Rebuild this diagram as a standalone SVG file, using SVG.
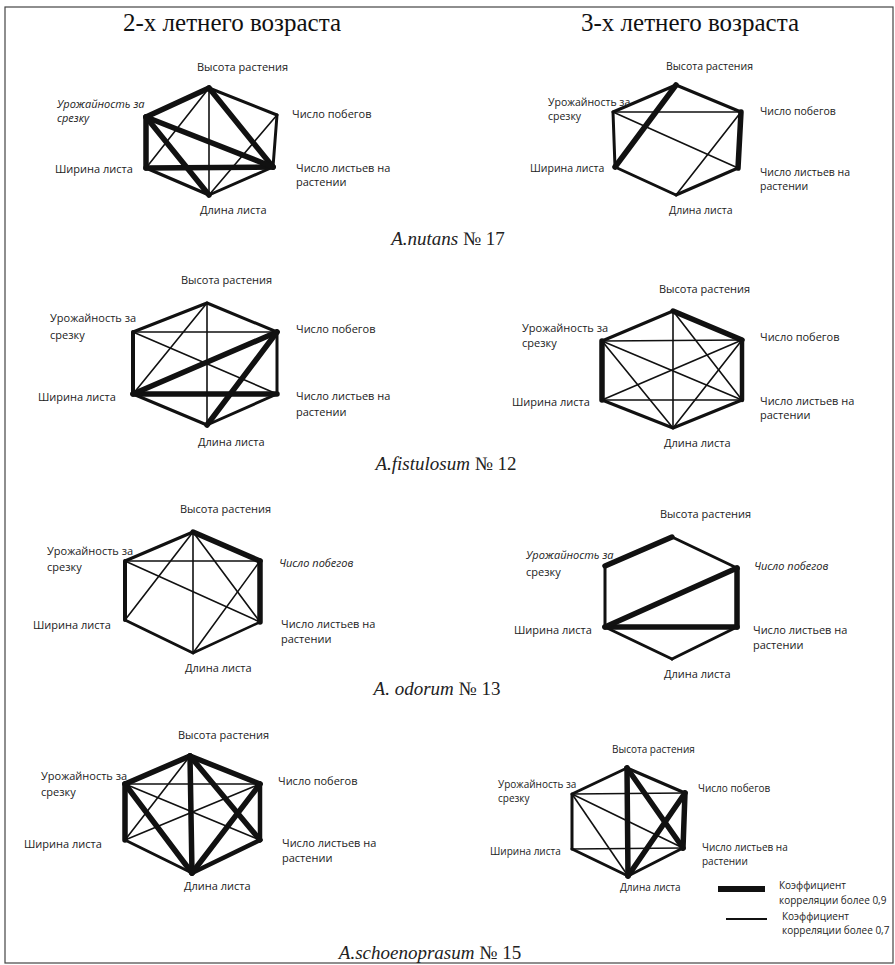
<svg xmlns="http://www.w3.org/2000/svg" width="895" height="965" viewBox="0 0 895 965">
<style>
.e{stroke:#111;stroke-width:3;stroke-linecap:round;fill:none}
.k{stroke-width:5.5}
.t{stroke-width:1.6}
.lb{font-family:"Open Sans","Noto Sans",sans-serif;font-size:11px;fill:#222}
.s10{font-size:10px}
.s105{font-size:10.5px}
.it{font-style:italic}
.ttl{font-family:"Liberation Serif",serif;font-size:25px;fill:#111;text-anchor:middle}
.sp{font-family:"Liberation Serif",serif;font-size:19px;fill:#222;text-anchor:middle}
</style>
<rect x="0" y="0" width="895" height="965" fill="#fff"/>
<rect x="5" y="7" width="888" height="956" fill="none" stroke="#444" stroke-width="1.2"/>
<text class="ttl" x="232" y="31">2-х летнего возраста</text>
<text class="ttl" x="690" y="31">3-х летнего возраста</text>
<text class="sp" x="448" y="245"><tspan font-style="italic">A.nutans</tspan> № 17</text>
<text class="sp" x="446" y="470"><tspan font-style="italic">A.fistulosum</tspan> № 12</text>
<text class="sp" x="437" y="695"><tspan font-style="italic">A. odorum</tspan> № 13</text>
<text class="sp" x="430" y="959"><tspan font-style="italic">A.schoenoprasum</tspan> № 15</text>

<!-- Diagram 1: A.nutans, 2 years -->
<g id="h1-connectors" class="e">
<line x1="209" y1="88" x2="146" y2="117" class="k" stroke-width="4.5"/>
<line x1="209" y1="88" x2="277" y2="115"/>
<line x1="146" y1="117" x2="146" y2="168" class="k"/>
<line x1="277" y1="115" x2="273" y2="167"/>
<line x1="146" y1="168" x2="209" y2="195" stroke-width="3.5"/>
<line x1="273" y1="167" x2="209" y2="195"/>
<line x1="146" y1="168" x2="273" y2="167" class="k"/>
<line x1="209" y1="88" x2="209" y2="195" class="t"/>
<line x1="209" y1="88" x2="146" y2="168" class="t"/>
<line x1="277" y1="115" x2="209" y2="195" class="t"/>
<line x1="209" y1="88" x2="273" y2="167" class="k"/>
<line x1="146" y1="117" x2="273" y2="167" class="k"/>
<line x1="146" y1="117" x2="209" y2="195" class="k"/>
</g>
<g id="h1-n1"><text class="lb" x="197" y="71">Высота растения</text></g>
<g id="h1-n2"><text class="lb it" x="57" y="108">Урожайность за</text><text class="lb it" x="57" y="122">срезку</text></g>
<g id="h1-n3"><text class="lb" x="292" y="118">Число побегов</text></g>
<g id="h1-n4"><text class="lb" x="55" y="173">Ширина листа</text></g>
<g id="h1-n5"><text class="lb" x="296" y="172">Число листьев на</text><text class="lb" x="296" y="186">растении</text></g>
<g id="h1-n6"><text class="lb" x="200" y="214">Длина листа</text></g>

<!-- Diagram 2: A.nutans, 3 years -->
<g id="h2-connectors" class="e">
<line x1="676" y1="85" x2="613" y2="112"/>
<line x1="676" y1="85" x2="741" y2="112"/>
<line x1="613" y1="112" x2="741" y2="112" class="t"/>
<line x1="613" y1="112" x2="615" y2="167"/>
<line x1="741" y1="112" x2="738" y2="168" class="k"/>
<line x1="615" y1="167" x2="676" y2="195"/>
<line x1="738" y1="168" x2="676" y2="195"/>
<line x1="676" y1="85" x2="615" y2="167" class="k"/>
<line x1="613" y1="112" x2="738" y2="168" class="t"/>
<line x1="741" y1="112" x2="676" y2="195" class="t"/>
</g>
<g id="h2-n1"><text class="lb s105" x="666" y="70">Высота растения</text></g>
<g id="h2-n2"><text class="lb s105" x="548" y="106">Урожайность за</text><text class="lb s105" x="548" y="120">срезку</text></g>
<g id="h2-n3"><text class="lb s105" x="760" y="115">Число побегов</text></g>
<g id="h2-n4"><text class="lb s105" x="530" y="172">Ширина листа</text></g>
<g id="h2-n5"><text class="lb s105" x="760" y="176">Число листьев на</text><text class="lb s105" x="760" y="190">растении</text></g>
<g id="h2-n6"><text class="lb s105" x="669" y="214">Длина листа</text></g>

<!-- Diagram 3: A.fistulosum, 2 years -->
<g id="h3-connectors" class="e">
<line x1="207" y1="303" x2="133" y2="332"/>
<line x1="207" y1="303" x2="277" y2="332"/>
<line x1="133" y1="332" x2="277" y2="332" class="t"/>
<line x1="133" y1="332" x2="133" y2="394" stroke-width="4"/>
<line x1="277" y1="332" x2="277" y2="394"/>
<line x1="133" y1="394" x2="207" y2="425"/>
<line x1="277" y1="394" x2="207" y2="425"/>
<line x1="133" y1="394" x2="277" y2="394" class="k"/>
<line x1="207" y1="303" x2="207" y2="425" class="t"/>
<line x1="207" y1="303" x2="133" y2="394" class="t"/>
<line x1="133" y1="332" x2="277" y2="394" class="t"/>
<line x1="133" y1="394" x2="277" y2="332" class="k"/>
<line x1="277" y1="332" x2="207" y2="425" class="k"/>
</g>
<g id="h3-n1"><text class="lb" x="181" y="284">Высота растения</text></g>
<g id="h3-n2"><text class="lb" x="50" y="322">Урожайность за</text><text class="lb" x="50" y="339">срезку</text></g>
<g id="h3-n3"><text class="lb" x="296" y="333">Число побегов</text></g>
<g id="h3-n4"><text class="lb" x="38" y="401">Ширина листа</text></g>
<g id="h3-n5"><text class="lb" x="296" y="400">Число листьев на</text><text class="lb" x="296" y="416">растении</text></g>
<g id="h3-n6"><text class="lb" x="198" y="446">Длина листа</text></g>

<!-- Diagram 4: A.fistulosum, 3 years -->
<g id="h4-connectors" class="e">
<line x1="673" y1="311" x2="602" y2="341"/>
<line x1="673" y1="311" x2="742" y2="340" class="k"/>
<line x1="602" y1="341" x2="742" y2="340" class="t"/>
<line x1="602" y1="341" x2="602" y2="400" class="k"/>
<line x1="742" y1="340" x2="742" y2="400" stroke-width="4.5"/>
<line x1="602" y1="400" x2="673" y2="428"/>
<line x1="742" y1="400" x2="673" y2="428"/>
<line x1="602" y1="400" x2="742" y2="400" class="t"/>
<line x1="673" y1="311" x2="673" y2="428" class="t"/>
<line x1="673" y1="311" x2="742" y2="400" class="t"/>
<line x1="602" y1="341" x2="742" y2="400" class="t"/>
<line x1="602" y1="341" x2="673" y2="428" class="t"/>
<line x1="602" y1="400" x2="742" y2="340" class="t"/>
<line x1="742" y1="340" x2="673" y2="428" class="t"/>
</g>
<g id="h4-n1"><text class="lb" x="659" y="293">Высота растения</text></g>
<g id="h4-n2"><text class="lb" x="522" y="332">Урожайность за</text><text class="lb" x="522" y="347">срезку</text></g>
<g id="h4-n3"><text class="lb" x="760" y="341">Число побегов</text></g>
<g id="h4-n4"><text class="lb" x="512" y="406">Ширина листа</text></g>
<g id="h4-n5"><text class="lb" x="760" y="405">Число листьев на</text><text class="lb" x="760" y="419">растении</text></g>
<g id="h4-n6"><text class="lb" x="664" y="447">Длина листа</text></g>

<!-- Diagram 5: A. odorum, 2 years -->
<g id="h5-connectors" class="e">
<line x1="193" y1="532" x2="125" y2="561"/>
<line x1="193" y1="532" x2="260" y2="561" class="k"/>
<line x1="125" y1="561" x2="260" y2="561" class="t"/>
<line x1="125" y1="561" x2="125" y2="620" stroke-width="4"/>
<line x1="260" y1="561" x2="260" y2="622" class="k"/>
<line x1="125" y1="620" x2="193" y2="653"/>
<line x1="260" y1="622" x2="193" y2="653" stroke-width="2.5"/>
<line x1="193" y1="532" x2="193" y2="653" class="t"/>
<line x1="193" y1="532" x2="125" y2="620" class="t"/>
<line x1="193" y1="532" x2="260" y2="622" class="t"/>
<line x1="125" y1="561" x2="260" y2="622" class="t"/>
<line x1="260" y1="561" x2="193" y2="653" class="t"/>
</g>
<g id="h5-n1"><text class="lb" x="180" y="513">Высота растения</text></g>
<g id="h5-n2"><text class="lb" x="47" y="555">Урожайность за</text><text class="lb" x="47" y="571">срезку</text></g>
<g id="h5-n3"><text class="lb it" x="279" y="567">Число побегов</text></g>
<g id="h5-n4"><text class="lb" x="33" y="629">Ширина листа</text></g>
<g id="h5-n5"><text class="lb" x="281" y="628">Число листьев на</text><text class="lb" x="281" y="643">растении</text></g>
<g id="h5-n6"><text class="lb" x="185" y="672">Длина листа</text></g>

<!-- Diagram 6: A. odorum, 3 years -->
<g id="h6-connectors" class="e">
<line x1="672" y1="537" x2="605" y2="566" class="k"/>
<line x1="672" y1="537" x2="737" y2="568"/>
<line x1="605" y1="566" x2="605" y2="627"/>
<line x1="737" y1="568" x2="737" y2="627" class="k"/>
<line x1="605" y1="627" x2="672" y2="659"/>
<line x1="737" y1="627" x2="672" y2="659"/>
<line x1="605" y1="627" x2="737" y2="627" class="k"/>
<line x1="605" y1="627" x2="737" y2="568" class="k"/>
</g>
<g id="h6-n1"><text class="lb" x="660" y="518">Высота растения</text></g>
<g id="h6-n2"><text class="lb it" x="526" y="559">Урожайность за</text><text class="lb" x="526" y="576">срезку</text></g>
<g id="h6-n3"><text class="lb it" x="754" y="570">Число побегов</text></g>
<g id="h6-n4"><text class="lb" x="514" y="634">Ширина листа</text></g>
<g id="h6-n5"><text class="lb" x="753" y="634">Число листьев на</text><text class="lb" x="753" y="649">растении</text></g>
<g id="h6-n6"><text class="lb" x="664" y="678">Длина листа</text></g>

<!-- Diagram 7: A.schoenoprasum, 2 years -->
<g id="h7-connectors" class="e">
<line x1="190" y1="756" x2="125" y2="784" class="k"/>
<line x1="190" y1="756" x2="260" y2="784" class="k"/>
<line x1="125" y1="784" x2="260" y2="784" class="t"/>
<line x1="125" y1="784" x2="125" y2="840" class="k"/>
<line x1="260" y1="784" x2="260" y2="840" stroke-width="4.5"/>
<line x1="125" y1="840" x2="192" y2="873"/>
<line x1="260" y1="840" x2="192" y2="873" stroke-width="4.5"/>
<line x1="190" y1="756" x2="192" y2="873" class="k" stroke-width="6.5"/>
<line x1="190" y1="756" x2="260" y2="840" class="k"/>
<line x1="260" y1="784" x2="192" y2="873" class="k"/>
<line x1="125" y1="784" x2="192" y2="873" class="k"/>
<line x1="125" y1="784" x2="260" y2="840" class="t"/>
<line x1="125" y1="840" x2="260" y2="784" class="t"/>
<line x1="190" y1="756" x2="125" y2="840" class="t"/>
</g>
<g id="h7-n1"><text class="lb" x="178" y="739">Высота растения</text></g>
<g id="h7-n2"><text class="lb" x="41" y="780">Урожайность за</text><text class="lb" x="41" y="796">срезку</text></g>
<g id="h7-n3"><text class="lb" x="278" y="785">Число побегов</text></g>
<g id="h7-n4"><text class="lb" x="24" y="848">Ширина листа</text></g>
<g id="h7-n5"><text class="lb" x="282" y="847">Число листьев на</text><text class="lb" x="282" y="862">растении</text></g>
<g id="h7-n6"><text class="lb" x="184" y="890">Длина листа</text></g>

<!-- Diagram 8: A.schoenoprasum, 3 years -->
<g id="h8-connectors" class="e">
<line x1="627" y1="768" x2="572" y2="794"/>
<line x1="627" y1="768" x2="685" y2="793"/>
<line x1="572" y1="794" x2="685" y2="793" class="t"/>
<line x1="572" y1="794" x2="572" y2="849"/>
<line x1="685" y1="793" x2="683" y2="848" class="k"/>
<line x1="572" y1="849" x2="628" y2="876"/>
<line x1="683" y1="848" x2="628" y2="876"/>
<line x1="572" y1="849" x2="683" y2="848" class="t"/>
<line x1="627" y1="768" x2="628" y2="876" class="k"/>
<line x1="627" y1="768" x2="683" y2="848" class="k"/>
<line x1="685" y1="793" x2="628" y2="876" class="k"/>
<line x1="572" y1="794" x2="683" y2="848" class="t"/>
<line x1="572" y1="794" x2="628" y2="876" class="t"/>
</g>
<g id="h8-n1"><text class="lb s10" x="612" y="753">Высота растения</text></g>
<g id="h8-n2"><text class="lb s10" x="498" y="788">Урожайность за</text><text class="lb s10" x="498" y="802">срезку</text></g>
<g id="h8-n3"><text class="lb s10" x="698" y="792">Число побегов</text></g>
<g id="h8-n4"><text class="lb s10" x="490" y="855">Ширина листа</text></g>
<g id="h8-n5"><text class="lb s10" x="702" y="851">Число листьев на</text><text class="lb s10" x="702" y="865">растении</text></g>
<g id="h8-n6"><text class="lb s10" x="620" y="891">Длина листа</text></g>

<!-- Legend -->
<g id="legend">
<line x1="718" y1="889" x2="765" y2="889" stroke="#111" stroke-width="6"/>
<line x1="726" y1="919" x2="767" y2="919" stroke="#111" stroke-width="2"/>
<text class="lb s10" x="779" y="889">Коэффициент</text>
<text class="lb s10" x="779" y="904">корреляции более 0,9</text>
<text class="lb s10" x="782" y="920">Коэффициент</text>
<text class="lb s10" x="782" y="934">корреляции более 0,7</text>
</g>
</svg>
